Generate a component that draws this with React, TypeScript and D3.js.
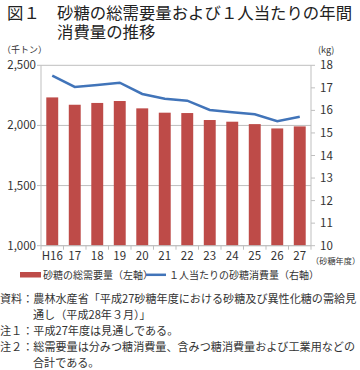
import React from "react";
import * as d3 from "d3";

const categories = ["H16", "17", "18", "19", "20", "21", "22", "23", "24", "25", "26", "27"];
const totalDemand = [2233, 2172, 2187, 2203, 2142, 2106, 2103, 2045, 2031, 2011, 1975, 1992];
const perCapita = [17.54, 17.04, 17.13, 17.23, 16.73, 16.52, 16.43, 16.02, 15.92, 15.83, 15.52, 15.72];
const leftTicks = [1000, 1500, 2000, 2500];
const rightTicks = [10, 11, 12, 13, 14, 15, 16, 17, 18];

const FONT = "'Noto Sans CJK JP', 'Noto Sans', sans-serif";

export default function App() {
  const W = 360, H = 370;
  const x0 = 41, x1 = 311, yTop = 65.3, yBot = 245.7;
  const x = d3.scaleBand().domain(categories).range([x0, x1]).paddingInner(0.47).paddingOuter(0.235);
  const band = d3.scaleBand().domain(categories).range([x0, x1]);
  const yL = d3.scaleLinear().domain([1000, 2500]).range([yBot, yTop]);
  const yR = d3.scaleLinear().domain([10, 18]).range([yBot, yTop]);
  const line = d3.line<number>()
    .x((_, i) => (x(categories[i]) as number) + x.bandwidth() / 2)
    .y((d) => yR(d));
  const barColor = "#BE4B48";
  const lineColor = "#4174B9";
  const grid = "#BFBFBF";
  const txt = "#333";

  return (
    <svg width={W} height={H} style={{ position: "absolute", left: 0, top: 0 }} fontFamily={FONT}>
      <rect width={W} height={H} fill="#fff" />
      {/* Title */}
      <text x={7} y={19} fontSize={16.4} fill="#222">図１</text>
      <text x={57} y={19} fontSize={16.4} fill="#222">砂糖の総需要量および１人当たりの年間</text>
      <text x={57} y={38} fontSize={16.4} fill="#222">消費量の推移</text>

      {/* unit labels */}
      <text x={2} y={53} fontSize={9} fill={txt}>（千トン）</text>
      <text x={318} y={53} fontSize={9} fill={txt}>(kg)</text>

      {/* gridlines */}
      {leftTicks.map((t) => (
        <line key={t} x1={x0} x2={x1} y1={yL(t)} y2={yL(t)} stroke={grid} strokeWidth={1} />
      ))}

      {/* bars */}
      {totalDemand.map((v, i) => (
        <rect key={i} x={x(categories[i])} y={yL(v)} width={x.bandwidth()} height={yL(1000) - yL(v)} fill={barColor} />
      ))}

      {/* axes */}
      <line x1={x0} x2={x0} y1={yTop} y2={yBot} stroke={grid} />
      <line x1={x1} x2={x1} y1={yTop} y2={yBot} stroke={grid} />
      <line x1={x0} x2={x1} y1={yBot} y2={yBot} stroke={grid} />
      {leftTicks.map((t) => (
        <g key={t}>
          <line x1={x0 - 4} x2={x0} y1={yL(t)} y2={yL(t)} stroke={grid} />
          <text x={36} y={yL(t) + 4} fontSize={11.5} textAnchor="end" fill={txt}>{d3.format(",")(t)}</text>
        </g>
      ))}
      {rightTicks.map((t) => (
        <g key={t}>
          <line x1={x1} x2={x1 + 4} y1={yR(t)} y2={yR(t)} stroke={grid} />
          <text x={320} y={yR(t) + 4} fontSize={11.5} fill={txt}>{t}</text>
        </g>
      ))}
      {categories.map((c, i) => (
        <g key={c}>
          <line x1={(band(c) as number)} x2={(band(c) as number)} y1={yBot} y2={yBot + 4} stroke={grid} />
          {i === categories.length - 1 && (
            <line x1={x1} x2={x1} y1={yBot} y2={yBot + 4} stroke={grid} />
          )}
          <text x={(x(c) as number) + x.bandwidth() / 2} y={yBot + 14} fontSize={11.5} textAnchor="middle" fill={txt}>{c}</text>
        </g>
      ))}
      <text x={311} y={264} fontSize={8.2} fill={txt}>（砂糖年度）</text>

      {/* line */}
      <path d={line(perCapita) || ""} fill="none" stroke={lineColor} strokeWidth={2.5} />

      {/* legend */}
      <rect x={20} y={272} width={21} height={5.5} fill={barColor} />
      <text x={43} y={278.5} fontSize={10} fill={txt}>砂糖の総需要量（左軸）</text>
      <line x1={146} x2={166} y1={274.8} y2={274.8} stroke={lineColor} strokeWidth={2.5} />
      <text x={169} y={278.5} fontSize={10} fill={txt}>１人当たりの砂糖消費量（右軸）</text>

      {/* notes */}
      <g fontSize={11.1} fill={txt}>
        <text x={0} y={303}>資料：農林水産省「平成27砂糖年度における砂糖及び異性化糖の需給見</text>
        <text x={33} y={319}>通し（平成28年３月）」</text>
        <text x={0} y={335}>注１：平成27年度は見通しである。</text>
        <text x={0} y={351}>注２：総需要量は分みつ糖消費量、含みつ糖消費量および工業用などの</text>
        <text x={33} y={367}>合計である。</text>
      </g>
    </svg>
  );
}
